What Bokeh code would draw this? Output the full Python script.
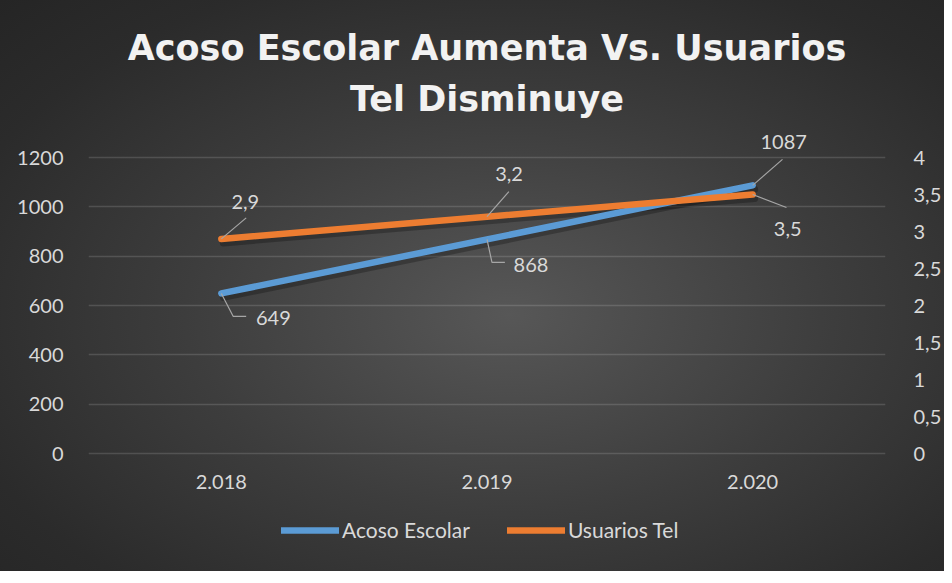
from bokeh.plotting import figure
from bokeh.models import (Range1d, LinearAxis, FixedTicker, CustomJSTickFormatter,
                          ColumnDataSource, Title, Grid, Legend, LegendItem)
from bokeh.embed import file_html
from bokeh.resources import INLINE
from bokeh.core.properties import value

# ---------------- data ----------------
years = ["2.018", "2.019", "2.020"]
acoso = [649, 868, 1087]
usuarios = [2.9, 3.2, 3.5]
left_ticks = [0, 200, 400, 600, 800, 1000, 1200]
right_ticks = [0, 0.5, 1, 1.5, 2, 2.5, 3, 3.5, 4]
series_names = ["Acoso Escolar", "Usuarios Tel"]
title_lines = ["Acoso Escolar Aumenta Vs. Usuarios", "Tel Disminuye"]

# ---------------- layout / style ----------------
W, H = 944, 571
BL, BR, BT, BB = 88, 54, 123, 26
FW, FH = W - BL - BR, H - BT - BB
PLOT_PX = 296                      # px between 0 and the top tick
TOP_PX, BELOW_PX = 34, FH - 34 - PLOT_PX
unit = left_ticks[-1] / PLOT_PX
Y_START, Y_END = -BELOW_PX * unit, left_ticks[-1] + TOP_PX * unit
rscale = right_ticks[-1] / left_ticks[-1]
BLUE, ORANGE = "#5B9BD5", "#ED7D31"
TXT = "#D9D9D9"
FONT = "Lato"

xs = list(range(len(years)))
px_x = FW / len(years)
px_yl = FH / (Y_END - Y_START)
px_yr = px_yl / rscale

p = figure(width=W, height=H, x_range=Range1d(-0.5, len(years) - 0.5),
           y_range=Range1d(Y_START, Y_END), output_backend="svg", toolbar_location=None,
           min_border_left=BL, min_border_right=BR, min_border_top=BT, min_border_bottom=BB,
           x_axis_type=None, y_axis_type=None, title=None)
p.extra_y_ranges = {"right": Range1d(Y_START * rscale, Y_END * rscale)}
p.border_fill_color = None
p.background_fill_color = None
p.outline_line_color = None
p.styles = {"background": "radial-gradient(ellipse at 54% 55%, #575757 0%, #3d3d3d 45%, #2b2b2b 80%, #252525 100%)"}

for txt, so in zip(reversed(title_lines), (10, 8)):
    p.add_layout(Title(text=txt, align="center", text_font="DejaVu Sans", text_font_style="bold",
                       text_font_size="35px", text_color="#F2F2F2", standoff=so, offset=2), "above")

def style_axis(ax, standoff):
    ax.axis_line_color = None
    ax.major_tick_line_color = None
    ax.minor_tick_line_color = None
    ax.major_label_text_color = TXT
    ax.major_label_text_font = FONT
    ax.major_label_text_font_size = "20px"
    ax.major_label_standoff = standoff

# category axis drawn a little below the zero line
xaxis = LinearAxis(ticker=FixedTicker(ticks=xs), fixed_location=-21 / px_yl,
                   major_label_overrides={i: y for i, y in zip(xs, years)},
                   major_tick_out=0, major_tick_in=0)
style_axis(xaxis, 0)
p.add_layout(xaxis, "below")

laxis = LinearAxis(ticker=FixedTicker(ticks=left_ticks))
style_axis(laxis, 19)
p.add_layout(laxis, "left")

raxis = LinearAxis(y_range_name="right", ticker=FixedTicker(ticks=right_ticks),
                   formatter=CustomJSTickFormatter(code="return tick.toString().replace('.', ',')"))
style_axis(raxis, 22)
p.add_layout(raxis, "right")

p.add_layout(Grid(dimension=1, ticker=FixedTicker(ticks=left_ticks),
                  grid_line_color="white", grid_line_alpha=0.14, grid_line_width=1.3))

p.line([x + 2 / px_x for x in xs], [v - 4 / px_yl for v in acoso], line_width=7,
       color="black", alpha=0.25, line_cap="round")
p.line([x + 2 / px_x for x in xs], [v - 4 / px_yr for v in usuarios], line_width=7,
       color="black", alpha=0.25, line_cap="round", y_range_name="right")

l1 = p.line(xs, acoso, line_width=6.5, color=BLUE, line_cap="round", line_join="round")
l2 = p.line(xs, usuarios, line_width=6.5, color=ORANGE, line_cap="round", line_join="round",
            y_range_name="right")

lab_off_a = [(52, 25), (44, 26), (31, -43)]
lead_a = [[(0, 0), (12, 23), (25, 23)], [(0, 0), (5, 23), (18, 23)], [(0, 0), (30, -26)]]
lab_off_u = [(24, -37), (22, -43), (35, 34)]
lead_u = [[(0, 0), (25, -21)], [(0, 0), (22, -25)], [(0, 0), (34, 13)]]

def leaders(vals, pts, pxy):
    lx, ly = [], []
    for x, v, path in zip(xs, vals, pts):
        lx.append([x + dx / px_x for dx, dy in path])
        ly.append([v - dy / pxy for dx, dy in path])
    return lx, ly

lx, ly = leaders(acoso, lead_a, px_yl)
p.multi_line(lx, ly, line_color="#A6A6A6", line_width=1.2)
lx, ly = leaders(usuarios, lead_u, px_yr)
p.multi_line(lx, ly, line_color="#A6A6A6", line_width=1.2, y_range_name="right")

src_a = ColumnDataSource(dict(x=xs, y=acoso, t=[str(v) for v in acoso],
                              xo=[o[0] for o in lab_off_a], yo=[o[1] for o in lab_off_a]))
src_u = ColumnDataSource(dict(x=xs, y=usuarios, t=[str(v).replace(".", ",") for v in usuarios],
                              xo=[o[0] for o in lab_off_u], yo=[o[1] for o in lab_off_u]))
for src, rn in ((src_a, "default"), (src_u, "right")):
    p.text("x", "y", text="t", source=src, x_offset="xo", y_offset="yo",
           text_align="center", text_baseline="middle", text_color=TXT,
           text_font=value(FONT), text_font_size="20px", y_range_name=rn)

legend = Legend(items=[LegendItem(label=series_names[0], renderers=[l1]),
                       LegendItem(label=series_names[1], renderers=[l2])],
                orientation="horizontal", location=(193, 3),
                glyph_width=58, glyph_height=20, label_height=20, label_standoff=3, spacing=37,
                padding=0, margin=0,
                background_fill_alpha=0, border_line_alpha=0,
                label_text_color=TXT, label_text_font=FONT, label_text_font_size="21px")
p.add_layout(legend)

open("out.html", "w").write(file_html(p, INLINE))
